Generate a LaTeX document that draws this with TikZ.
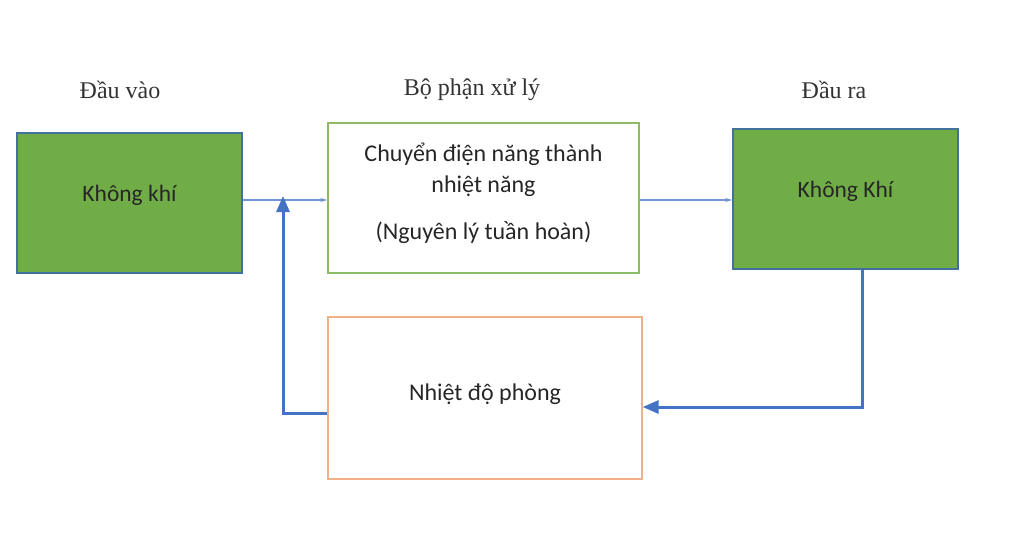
\documentclass[tikz,border=0pt]{standalone}
\usepackage{fontspec}
\setmainfont{Liberation Serif}
\newfontfamily\boxfont{Carlito}
\usepackage{tikz}
\usetikzlibrary{arrows.meta}
\definecolor{airgreen}{HTML}{70AD47}
\definecolor{edgeblue}{HTML}{41719C}
\definecolor{procgreen}{HTML}{8CBA65}
\definecolor{roomorange}{HTML}{F2AE84}
\definecolor{flowblue}{HTML}{4472C4}
\definecolor{thinblue}{HTML}{7096D4}

\begin{document}
\begin{tikzpicture}[
    x=1pt, y=-1pt, % picture measured in pixels, y downwards
    header/.style={
        font=\fontsize{24}{28}\selectfont,
        text=black!80
    },
    airbox/.style={
        draw=edgeblue,
        fill=airgreen,
        line width=1.6pt,
        minimum width=225pt,
        minimum height=140pt,
        font=\boxfont\fontsize{23.5}{28}\selectfont,
        text=black!85,
        text height=12pt,
        text depth=16pt
    },
    procbox/.style={
        draw=procgreen,
        line width=1.3pt,
        minimum width=311pt,
        minimum height=150pt,
        align=center,
        font=\boxfont\fontsize{24}{31}\selectfont,
        text=black!85
    },
    roombox/.style={
        draw=roomorange,
        line width=1.3pt,
        minimum width=314pt,
        minimum height=162pt,
        font=\boxfont\fontsize{24}{28}\selectfont,
        text=black!85,
        text height=12pt,
        text depth=8pt
    },
    thinarrow/.style={
        -{Stealth[length=7pt,width=4pt]},
        draw=thinblue,
        line width=1.4pt
    },
    backarrow/.style={
        -{Triangle[length=16pt,width=13pt]},
        draw=flowblue,
        line width=3pt
    }
]
    \useasboundingbox (0,0) rectangle (1024,556);

    % --- Column headers ---
    \node[header] (hin)   at (120,90) {Đầu vào};
    \node[header] (hproc) at (472,90) {Bộ phận xử lý};
    \node[header] (hout)  at (834,90) {Đầu ra};

    % --- Boxes ---
    \node[airbox]  (in)   at (129.5,203) {Không khí};
    \node[procbox] (proc) at (483.5,198) {Chuyển điện năng thành\\nhiệt năng\\[16pt](Nguyên lý tuần hoàn)\\[-18pt]};
    \node[airbox]  (out)  at (845.5,199) {Không Khí};
    \node[roombox] (room) at (485,398)   {Nhiệt độ phòng};
    \coordinate (mix) at (283,196);

    % --- Main flow ---
    \draw[thinarrow] ([yshift=3pt]in.east) -- ([yshift=3pt]in.east -| proc.west);
    \draw[thinarrow] ([yshift=-2pt]proc.east) -- ([yshift=-2pt]proc.east -| out.west);

    % --- Feedback loop ---
    \draw[backarrow] ([xshift=16.5pt]out.south) |- ([yshift=-9pt]room.east);
    \draw[backarrow] ([yshift=-15pt]room.west) -| (mix);
\end{tikzpicture}
\end{document}
